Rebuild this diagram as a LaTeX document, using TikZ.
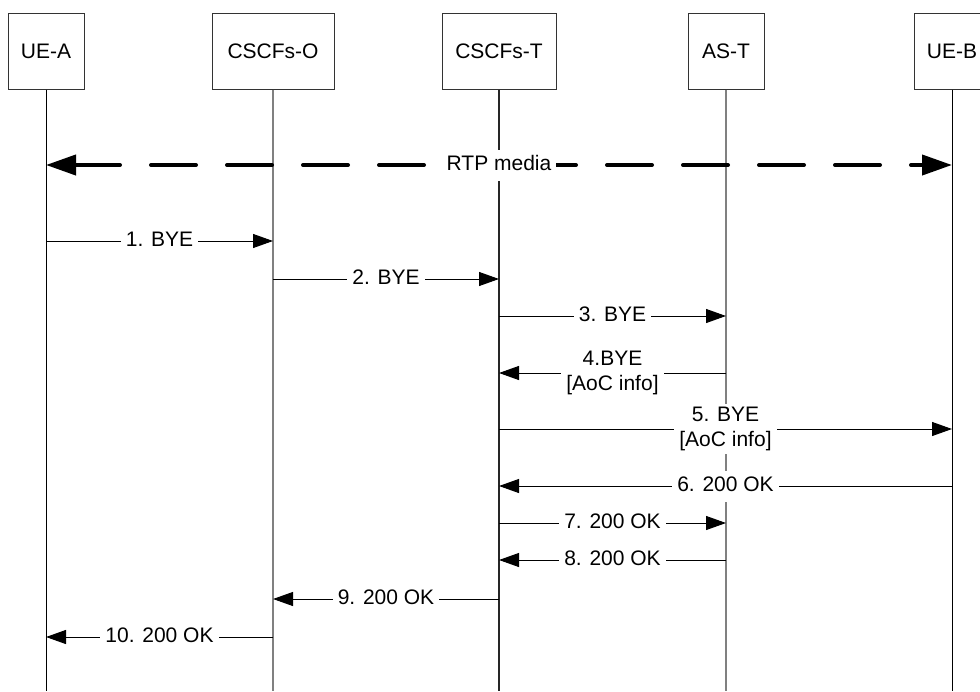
\documentclass[tikz,border=0pt]{standalone}
\usepackage{fontspec}
\setmainfont{Liberation Sans}
\usetikzlibrary{arrows.meta}
\begin{document}
\begin{tikzpicture}[x=1pt,y=-1pt,
  every node/.style={font=\fontsize{21}{25}\selectfont},
  entity/.style={draw=black!80, line width=1pt, minimum height=76pt, inner sep=0pt},
  msg/.style={line width=1pt, -{Triangle[length=20pt,width=14pt]}},
  lbl/.style={fill=white, inner xsep=5pt, inner ysep=6pt, text height=15pt, text depth=4pt},
  lbltwo/.style={fill=white, inner xsep=5pt, inner ysep=3pt, align=center},
  media/.style={line width=4pt, line cap=round, dash pattern=on 45pt off 31pt,
    {Triangle[length=30pt,width=20pt]}-{Triangle[length=30pt,width=20pt]}}
]
\useasboundingbox (0,0) rectangle (980,691);
% entities
\node[entity, minimum width=76pt]  (ueA)   at (46,51)  {UE-A};
\node[entity, minimum width=122pt] (cscfO) at (273,51) {CSCFs-O};
\node[entity, minimum width=114pt] (cscfT) at (499,51) {CSCFs-T};
\node[entity, minimum width=76pt]  (asT)   at (726,51) {AS-T};
\node[entity, minimum width=76pt]  (ueB)   at (952,51) {UE-B};
% lifelines
\coordinate (endA) at (46,691);
\coordinate (endO) at (273,691);
\coordinate (endT) at (499,691);
\coordinate (endS) at (726,691);
\coordinate (endB) at (952,691);
\draw[line width=1pt, black] (ueA.south) -- (endA);
\draw[line width=1.5pt, black!50] (cscfO.south) -- (endO);
\draw[line width=2pt, black!85] (cscfT.south) -- (endT);
\draw[line width=1.5pt, black!50] (asT.south) -- (endS);
\draw[line width=1pt, black] (ueB.south) -- (endB);
% media
\draw[media] (ueA |- 0,165) -- node[lbl]{RTP media} (ueB |- 0,165);
% messages
\draw[msg] (ueA |- 0,241) -- node[lbl]{1. BYE} (cscfO |- 0,241);
\draw[msg] (cscfO |- 0,279) -- node[lbl]{2. BYE} (cscfT |- 0,279);
\draw[msg] (cscfT |- 0,316) -- node[lbl]{3. BYE} (asT |- 0,316);
\draw[msg] (asT |- 0,373) -- node[lbltwo]{4.BYE\\{}[AoC info]} (cscfT |- 0,373);
\draw[msg] (cscfT |- 0,429) -- node[lbltwo]{5. BYE\\{}[AoC info]} (ueB |- 0,429);
\draw[msg] (ueB |- 0,486) -- node[lbl]{6. 200 OK} (cscfT |- 0,486);
\draw[msg] (cscfT |- 0,523) -- node[lbl]{7. 200 OK} (asT |- 0,523);
\draw[msg] (asT |- 0,560) -- node[lbl]{8. 200 OK} (cscfT |- 0,560);
\draw[msg] (cscfT |- 0,599) -- node[lbl]{9. 200 OK} (cscfO |- 0,599);
\draw[msg] (cscfO |- 0,637) -- node[lbl]{10. 200 OK} (ueA |- 0,637);
\end{tikzpicture}
\end{document}
